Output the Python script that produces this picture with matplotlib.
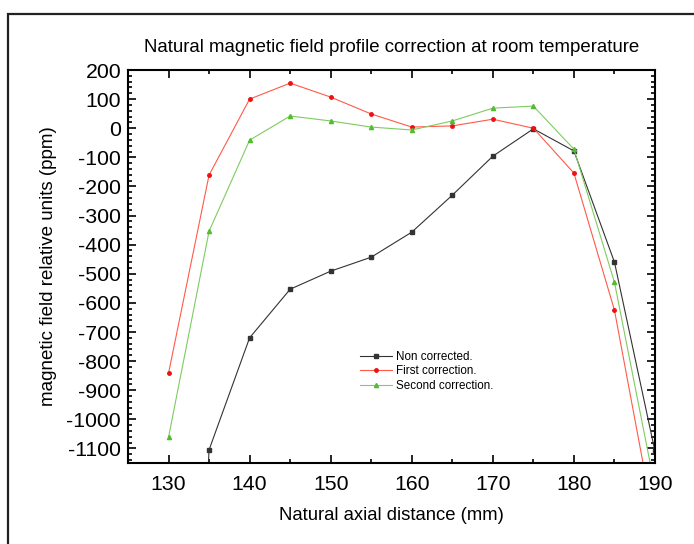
import matplotlib
matplotlib.use("Agg")
import matplotlib.pyplot as plt
from matplotlib.patches import Rectangle
from matplotlib.ticker import MultipleLocator

plt.rcParams['font.family'] = ['Liberation Sans', 'DejaVu Sans']
plt.rcParams['axes.unicode_minus'] = False

# axial positions (mm)
distance = [130, 135, 140, 145, 150, 155, 160, 165, 170, 175, 180, 185, 190]

# field deviation (ppm)
non_corrected = [-4000, -1105, -720, -553, -491, -443, -357, -230, -96, -2, -78, -460, -1110]
first_corr = [-842, -161, 100, 155, 107, 49, 4, 8, 31, 0, -154, -625, -1370]
second_corr = [-1062, -354, -41, 42, 25, 4, -6, 25, 69, 76, -72, -529, -1235]

fig = plt.figure(figsize=(6.94, 5.44), dpi=100)
ax = fig.add_axes([0.1844, 0.1489, 0.7594, 0.7224])

# outer frame, cut off at right and bottom like in the original
fig.patches.append(Rectangle((8 / 694, -0.1), 1.2, 0.1 + 1 - 14 / 544,
                             transform=fig.transFigure, fill=False,
                             edgecolor='#222222', linewidth=1.6))

ax.plot(distance, non_corrected, color='#333333', lw=0.8, marker='s', ms=2.5,
        label='Non corrected.')
ax.plot(distance, first_corr, color='#ff5a4a', lw=0.8, marker='o', ms=2.5,
        mfc='#ee1111', mec='#ee1111', label='First correction.')
ax.plot(distance, second_corr, color='#7fcc5f', lw=0.8, marker='^', ms=3,
        mfc='#55bb33', mec='#55bb33', label='Second correction.')

ax.set_xlim(125, 190)
ax.set_ylim(-1150, 200)
ax.xaxis.set_major_locator(MultipleLocator(10))
ax.xaxis.set_minor_locator(MultipleLocator(5))
ax.yaxis.set_major_locator(MultipleLocator(100))
ax.yaxis.set_minor_locator(MultipleLocator(20))
ax.tick_params(which='both', direction='in', top=True, right=True, width=1.2)
ax.tick_params(which='major', length=6, labelsize=15.3)
ax.tick_params(which='minor', length=3)
ax.tick_params(axis='x', pad=9)
ax.tick_params(axis='y', pad=5)
for s in ax.spines.values():
    s.set_linewidth(1.5)

ax.set_title('Natural magnetic field profile correction at room temperature',
             fontsize=13.4, pad=13)
ax.set_xlabel('Natural axial distance (mm)', fontsize=13.3, labelpad=9)
ax.set_ylabel('magnetic field relative units (ppm)', fontsize=13.5, labelpad=7)

ax.legend(loc='upper left', bbox_to_anchor=(0.42, 0.312), frameon=False,
          fontsize=8.4, handlelength=2.8, handletextpad=0.3, labelspacing=0.22)

fig.savefig('out.png', dpi=100)
